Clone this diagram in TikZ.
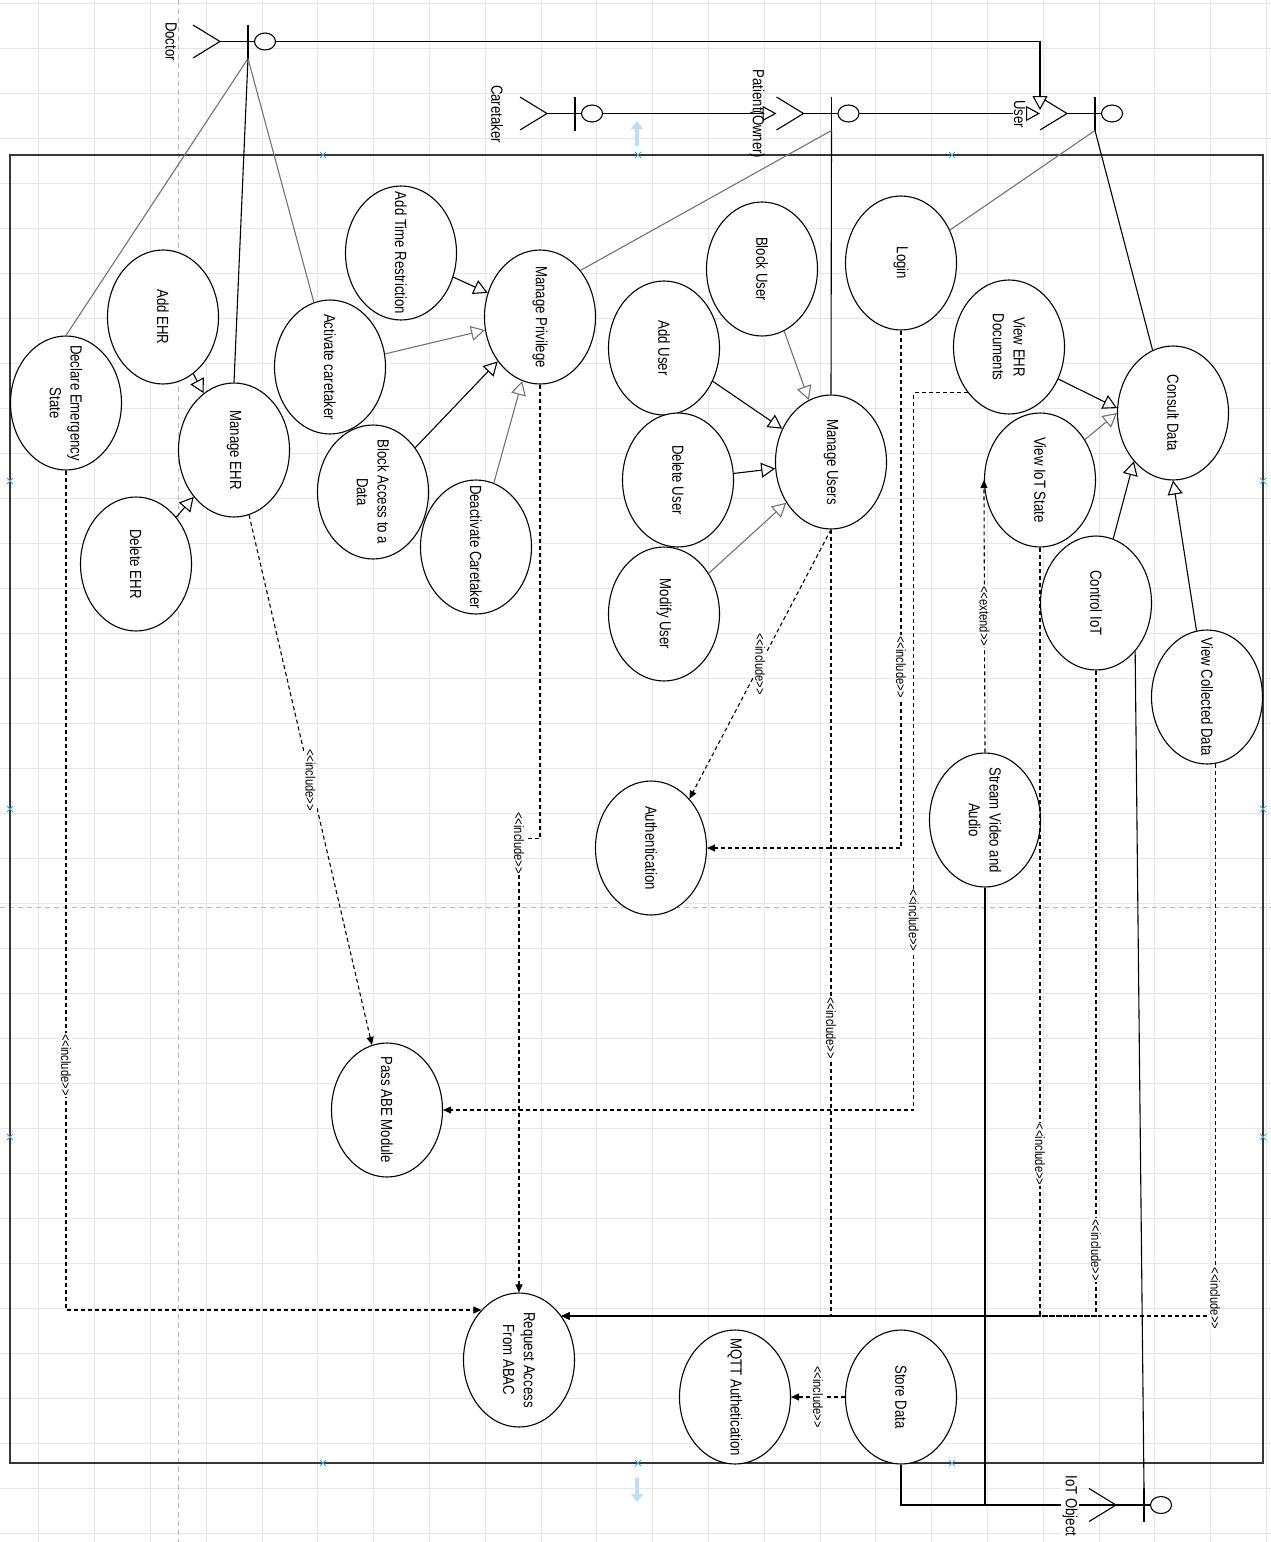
\documentclass[tikz,border=0pt]{standalone}
\usepackage{fontspec}
\setmainfont{Liberation Sans}
\usetikzlibrary{arrows.meta,shapes.geometric,calc}
\definecolor{gridgray}{RGB}{230,230,230}
\definecolor{pagegray}{RGB}{185,185,185}
\definecolor{framegray}{RGB}{55,55,55}
\definecolor{assocgray}{RGB}{115,115,115}
\definecolor{selblue}{RGB}{70,165,215}
\definecolor{hintblue}{RGB}{190,222,245}
\newcommand{\stereoinc}{<{}<include>{}>}
\newcommand{\stereoext}{<{}<extend>{}>}

\tikzset{
  uctext/.style={rotate=-90, yscale=1.22, align=center, inner sep=0pt, font=\fontsize{13.2}{17}\selectfont},
  usecase/.style={ellipse, draw, line width=1.1pt, fill=white, minimum width=111pt, minimum height=134pt, inner sep=0pt, label={[uctext]center:#1}},
  actorname/.style={rotate=-90, yscale=1.22, inner sep=1pt, font=\fontsize{13.2}{15}\selectfont},
  stereo/.style={rotate=-90, yscale=1.22, fill=white, inner sep=1pt, font=\fontsize{11.2}{12}\selectfont},
  assoc/.style={line width=1.1pt},
  lightassoc/.style={line width=1.1pt, draw=assocgray},
  genl/.style={line width=1.1pt, -{Triangle[open, width=15pt, length=14pt, fill=white]}},
  lightgenl/.style={genl, draw=assocgray},
  incl/.style={line width=1.1pt, dash pattern=on 4pt off 3pt, -{Triangle[width=7pt, length=8pt]}},
  actor/.pic={
    \draw[line width=1.1pt] (-27,-16.5) -- (0,0) -- (-27,16.5);
    \draw[line width=1.1pt] (0,0) -- (34.5,0) (28,-17) -- (28,17);
    \draw[line width=1.1pt, fill=white] (45,0) ellipse [x radius=10.5pt, y radius=8.5pt];
    \coordinate (-feet) at (0,0);
    \coordinate (-legtop) at (-27,-16.5);
    \coordinate (-armtop) at (28,-17);
    \coordinate (-armbot) at (28,17);
    \coordinate (-headr) at (55.5,0);
  }
}

\begin{document}
\begin{tikzpicture}[x=1pt, y=-1pt]
  \useasboundingbox[fill=white] (0,0) rectangle (1271,1542);
  \foreach \gx in {-17,38.8,...,1275} \draw[gridgray, line width=0.8pt] (\gx,0) -- (\gx,1542);
  \foreach \gy in {3,48,...,1542} \draw[gridgray, line width=0.8pt] (0,\gy) -- (1271,\gy);
  \draw[pagegray, dash pattern=on 5pt off 4pt] (178,0) -- (178,1542) (0,907) -- (1271,907);
  \draw[framegray, line width=1.3pt] (10,155) rectangle (1263,1463);
  \foreach \mx/\my in {323/155, 638/155, 952/155, 323/1463, 638/1463, 952/1463, 10/481, 10/809, 10/1137, 1263/481, 1263/809, 1263/1137}
    \draw[selblue, line width=0.8pt] (\mx-3,\my-3) -- (\mx+3,\my+3) (\mx-3,\my+3) -- (\mx+3,\my-3);
  \draw[hintblue, line width=4pt, -{Triangle[width=12pt, length=8pt]}] (637,146) -- (637,121);
  \draw[hintblue, line width=4pt, -{Triangle[width=12pt, length=8pt]}] (637,1478) -- (637,1502);

  \pic (doc) at (220,41.5) {actor};
  \pic (care) at (547,113.5) {actor};
  \pic (pat) at (803.5,113.5) {actor};
  \pic (usr) at (1067,113.5) {actor};
  \pic (iot) at (1116,1505) {actor};

  \node[usecase={Add Time Restriction}] (atr) at (401,253) {};
  \node[usecase={Manage Privilege}] (mp) at (540,317) {};
  \node[usecase={Add EHR}] (aehr) at (163,317) {};
  \node[usecase={Activate caretaker}] (act) at (330,367) {};
  \node[usecase={Declare Emergency\\State}] (des) at (66,403) {};
  \node[usecase={Manage EHR}] (mehr) at (234,450) {};
  \node[usecase={Delete EHR}] (dehr) at (136,564) {};
  \node[usecase={Block Access to a\\Data}] (bad) at (373,492) {};
  \node[usecase={Deactivate Caretaker}] (dct) at (476,547) {};
  \node[usecase={Block User}] (bu) at (762,269) {};
  \node[usecase={Login}] (login) at (901,263) {};
  \node[usecase={Add User}] (au) at (664,348) {};
  \node[usecase={View EHR\\Documents}] (vehr) at (1009,347) {};
  \node[usecase={Consult Data}] (cd) at (1173,413) {};
  \node[usecase={Manage Users}] (mu) at (831,462) {};
  \node[usecase={Delete User}] (du) at (678,480) {};
  \node[usecase={Modify User}] (modu) at (664,614) {};
  \node[usecase={View IoT State}] (viot) at (1040,480) {};
  \node[usecase={Control IoT}] (ctrl) at (1096,603) {};
  \node[usecase={View Collected Data}] (vcd) at (1207,697) {};
  \node[usecase={Stream Video and\\Audio}] (svs) at (985,820) {};
  \node[usecase={Authentication}] (auth) at (651,848) {};
  \node[usecase={Pass ABE Module}] (abe) at (387,1110) {};
  \node[usecase={Request Access\\From ABAC}] (req) at (519,1360) {};
  \node[usecase={MQTT Authetication}] (mqtt) at (735,1397) {};
  \node[usecase={Store Data}] (sd) at (901,1397) {};

  \draw[genl] (doc-headr) -| ($(usr-legtop)+(0,13)$);
  \draw[genl] (care-headr) -- (care-headr -| pat-legtop);
  \draw[genl] (pat-headr) -- (pat-headr -| usr-legtop);

  \draw[lightassoc] (doc-armbot) -- (des.north);
  \draw[assoc] (doc-armbot) -- (mehr.north);
  \draw[lightassoc] (doc-armbot) -- (act.104);
  \draw[assoc] (pat-armbot) -- (mu.north);
  \draw[lightassoc] (pat-armbot) -- (mp.49);
  \draw[lightassoc] (usr-armbot) -- (login.34);
  \draw[assoc] (usr-armbot) -- (cd.108);
  \draw[assoc] (ctrl.-51) -- (iot-armtop);
  \draw[assoc] (sd.south) |- (iot-feet);
  \draw[assoc] (svs.south) |- (iot-feet);

  \draw[genl] (atr) -- (mp);
  \draw[lightgenl] (act) -- (mp);
  \draw[genl] (bad) -- (mp);
  \draw[lightgenl] (dct) -- (mp);
  \draw[genl] (aehr) -- (mehr);
  \draw[genl] (dehr) -- (mehr);
  \draw[lightgenl] (bu) -- (mu);
  \draw[genl] (au) -- (mu);
  \draw[genl] (du) -- (mu);
  \draw[lightgenl] (modu) -- (mu);
  \draw[genl] (vehr.-33) -- (cd.175);
  \draw[lightgenl] (viot.42) -- (cd.west);
  \draw[genl] (ctrl.75) -- (cd.-129);
  \draw[genl] (vcd.99) -- (cd.south);

  \draw[incl] (mehr) -- node[stereo] (l1) {\stereoinc} (abe);
  \draw[incl] (mp.south) -- ++(0,454) -| node[stereo, pos=0.505] (l2) {\stereoinc} (req.north);
  \draw[incl] (mu.south) -- node[stereo] (l3) {\stereoinc} (auth.52);
  \draw[incl] (login.south) |- node[stereo, pos=0.325] (l4) {\stereoinc} (auth.east);
  \draw[incl] (vehr.-132) -- ++(-54,0) |- node[stereo, pos=0.368] (l5) {\stereoinc} (abe.east);
  \draw[incl] (mu.south) |- node[stereo, pos=0.317] (l6) {\stereoinc} (req.46);
  \draw[incl] (viot.south) |- node[stereo, pos=0.395] (l7) {\stereoinc} (req.46);
  \draw[incl] (ctrl.south) |- node[stereo, pos=0.449] (l8) {\stereoinc} (req.46);
  \draw[incl] (vcd.-83) |- node[stereo, pos=0.484] (l9) {\stereoinc} (req.46);
  \draw[incl] (des.south) |- node[stereo, pos=0.354] (l10) {\stereoinc} (req.127);
  \draw[incl] (svs.north) -- node[stereo] (l11) {\stereoext} (viot.west);
  \draw[incl] (sd.west) -- node[stereo] (l12) {\stereoinc} (mqtt.east);

  \node[actorname] (docname) at (171,41.5) {Doctor};
  \node[actorname] (carename) at (497,114) {Caretaker};
  \node[actorname] (patname) at (757,114) {Patient(Owner)};
  \node[actorname, fill=white] (usrname) at (1019.5,114) {User};
  \node[actorname, fill=white] (iotname) at (1070,1506) {IoT Object};
\end{tikzpicture}
\end{document}
